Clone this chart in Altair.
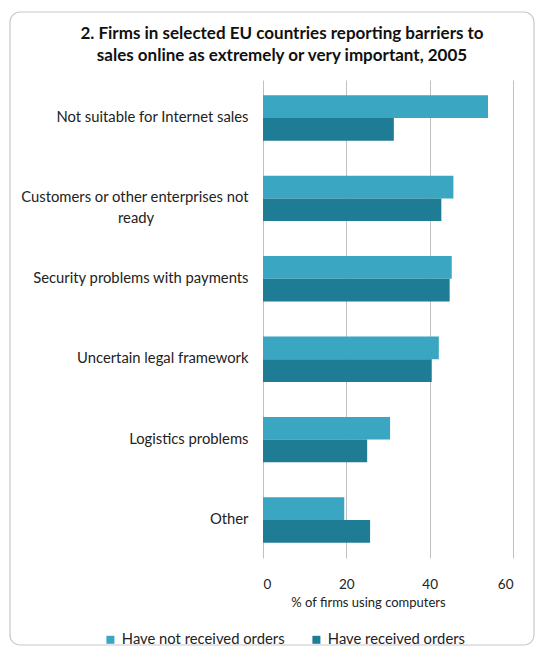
import altair as alt
import pandas as pd

categories = [
    "Not suitable for Internet sales",
    "Customers or other enterprises not ready",
    "Security problems with payments",
    "Uncertain legal framework",
    "Logistics problems",
    "Other",
]
series_names = ["Have not received orders", "Have received orders"]
not_received = [54.0, 45.7, 45.3, 42.2, 30.5, 19.5]
received = [31.4, 42.8, 44.8, 40.5, 25.0, 25.7]
x_ticks = [0, 20, 40, 60]
colors = ["#3ba6c1", "#1f7c95"]

rows = []
for c, a, b in zip(categories, not_received, received):
    rows.append({"category": c, "series": series_names[0], "value": a})
    rows.append({"category": c, "series": series_names[1], "value": b})
df = pd.DataFrame(rows)

FONT = "Lato"
NB = "\u00a0"
ZW = "\u200b"
label_expr = (
    "datum.label == 'Customers or other enterprises not ready' ? "
    "['Customers or other enterprises not', 'ready" + NB * 25 + ZW + "'] : datum.label"
)

bars = alt.Chart(df).mark_bar().encode(
    x=alt.X(
        "value:Q",
        scale=alt.Scale(domain=[0, 60], nice=False),
        axis=alt.Axis(
            values=x_ticks,
            title="% of firms using computers",
            grid=True,
            gridColor="#c0c0c0",
            domain=False,
            ticks=False,
            tickSize=0,
            labelPadding=19,
            labelFontSize=13.5,
            titleFontSize=13,
            titleFontWeight="normal",
            titlePadding=6,
            titleX=105,
            titleAlign="center",
        ),
    ),
    y=alt.Y(
        "category:N",
        sort=categories,
        scale=alt.Scale(paddingInner=0.435, paddingOuter=0.19),
        axis=alt.Axis(
            title=None,
            domain=False,
            ticks=False,
            tickSize=0,
            grid=False,
            labelPadding=15,
            labelFontSize=14.8,
            labelLimit=300,
            labelLineHeight=21,
            labelExpr=label_expr,
        ),
    ),
    yOffset=alt.YOffset("series:N", sort=series_names, scale=alt.Scale(paddingInner=0, paddingOuter=0)),
    color=alt.Color(
        "series:N",
        sort=series_names,
        scale=alt.Scale(domain=series_names, range=colors),
        legend=alt.Legend(
            title=None,
            orient="none",
            direction="horizontal",
            legendX=-160,
            legendY=552,
            symbolType="square",
            symbolSize=64,
            symbolStrokeWidth=0,
            labelFontSize=14.8,
            labelOffset=4,
            labelLimit=300,
            columnPadding=24,
        ),
    ),
)

frame = alt.Chart(alt.Data(values=[{"f": 1}])).mark_rect(
    fill="transparent", stroke="#c8c8c8", strokeWidth=1.2, cornerRadius=10
).encode(
    x=alt.value(-253), x2=alt.value(271), y=alt.value(-68), y2=alt.value(565)
)

chart = alt.layer(frame, bars).properties(
    width=250,
    height=478,
    autosize=alt.AutoSizeParams(type="none"),
    padding={"left": 255, "top": 72, "right": 23, "bottom": 90},
    title=alt.Title(
        ["2. Firms in selected EU countries reporting barriers to",
         "sales online as extremely or very important, 2005"],
        fontSize=17,
        font=FONT,
        fontWeight="bold",
        color="#111111",
        lineHeight=22,
        anchor="middle",
        frame="group",
        dx=-106,
        offset=-54,
    ),
).configure(font=FONT).configure_view(stroke=None).configure_axis(
    labelColor="#222222", titleColor="#222222", labelFont=FONT, titleFont=FONT
).configure_legend(labelColor="#222222", labelFont=FONT)

chart.save("out.html", embed_options={"renderer": "svg", "actions": False})
